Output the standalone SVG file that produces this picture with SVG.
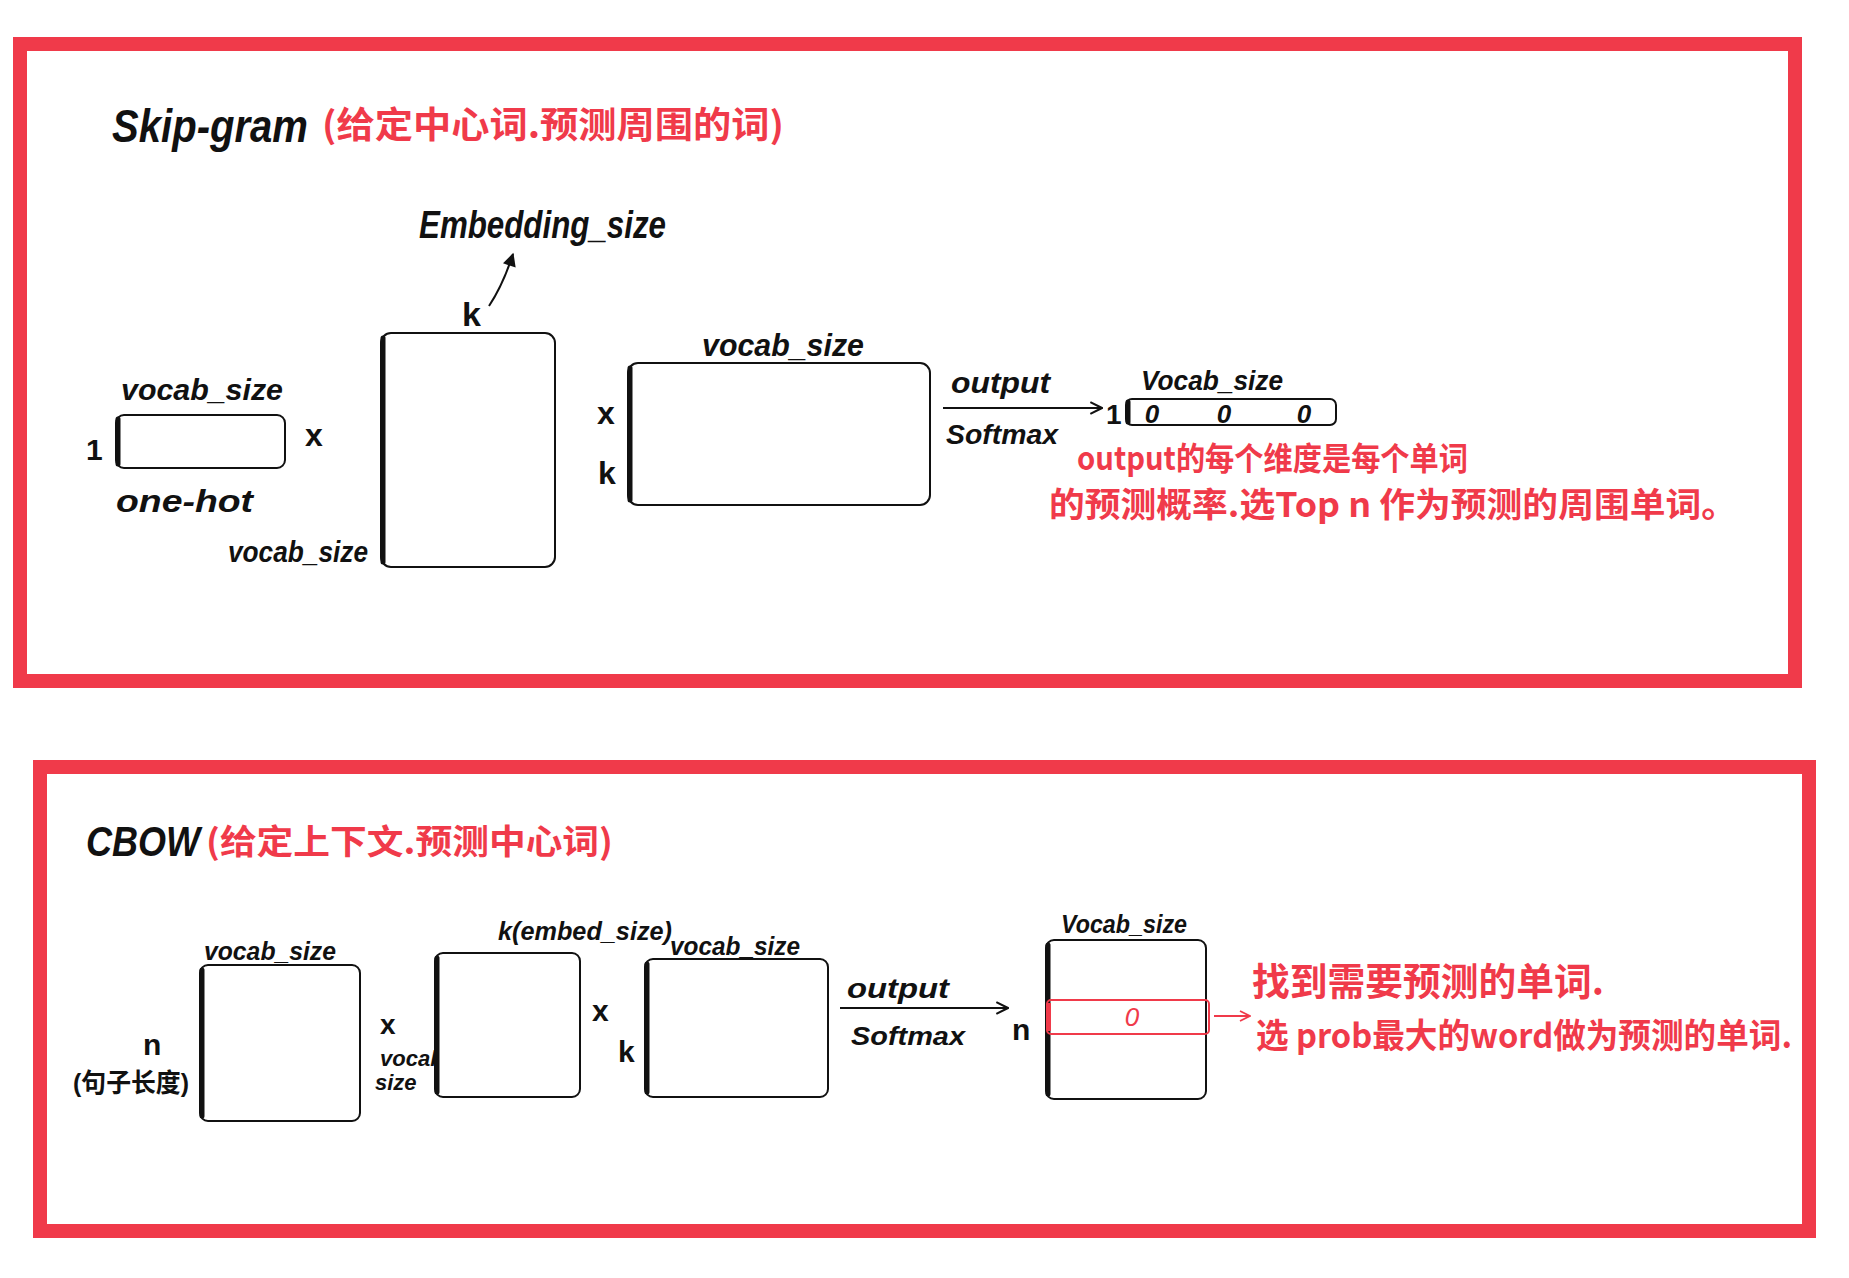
<svg xmlns="http://www.w3.org/2000/svg" width="1849" height="1278" viewBox="0 0 1849 1278">
<defs>
<style>
.frame{fill:none;stroke:#f03a4a;stroke-width:14}
.box{fill:#fff;stroke:#111;stroke-width:2}
.edge{stroke:#111;stroke-width:5;stroke-linecap:round}
.k{font-family:"Liberation Sans","Noto Sans CJK SC",sans-serif;fill:#111;font-weight:bold}
.r{font-family:"Noto Sans CJK SC","Liberation Sans",sans-serif;fill:#f03a4a;font-weight:bold}
.line{stroke:#111;stroke-width:2;fill:none}
.rline{stroke:#f03a4a;stroke-width:2;fill:none}
</style>
<marker id="ah" viewBox="0 0 12 12" refX="11" refY="6" markerWidth="14" markerHeight="14" markerUnits="userSpaceOnUse" orient="auto">
<path d="M1,1 L11,6 L1,11" fill="none" stroke="#111" stroke-width="1.8"/>
</marker>
<marker id="ahr" viewBox="0 0 12 12" refX="11" refY="6" markerWidth="12" markerHeight="12" markerUnits="userSpaceOnUse" orient="auto">
<path d="M1,1 L11,6 L1,11" fill="none" stroke="#f03a4a" stroke-width="1.8"/>
</marker>
<marker id="ahk" viewBox="0 0 12 12" refX="10" refY="6" markerWidth="16" markerHeight="16" markerUnits="userSpaceOnUse" orient="auto">
<path d="M1,1 L11,6 L1,11 Z" fill="#111"/>
</marker>
</defs>
<rect width="1849" height="1278" fill="#fff"/>

<!-- Frames -->
<g id="frame-skipgram"><rect class="frame" x="20" y="44" width="1775" height="637"/></g>
<g id="frame-cbow"><rect class="frame" x="40" y="767" width="1769" height="464"/></g>

<!-- Skip-gram section -->
<g id="title-skipgram">
<text class="k" x="112" y="142" font-size="46" font-style="italic" textLength="196" lengthAdjust="spacingAndGlyphs">Skip-gram</text>
<text class="r" x="322" y="138" font-size="36" textLength="462" lengthAdjust="spacingAndGlyphs">(给定中心词.预测周围的词)</text>
</g>
<g id="embedding-label">
<text class="k" x="419" y="238" font-size="38" font-style="italic" textLength="247" lengthAdjust="spacingAndGlyphs">Embedding_size</text>
</g>

<g id="onehot">
<rect class="box" x="116" y="415" width="169" height="53" rx="8"/>
<line class="edge" x1="118" y1="419" x2="118" y2="464"/>
<text class="k" x="121" y="400" font-size="30" font-style="italic" textLength="162" lengthAdjust="spacingAndGlyphs">vocab_size</text>
<text class="k" x="86" y="460" font-size="30">1</text>
<text class="k" x="116" y="512" font-size="32" font-style="italic" textLength="137" lengthAdjust="spacingAndGlyphs">one-hot</text>
</g>
<g id="times1"><text class="k" x="305" y="446" font-size="32">x</text></g>

<g id="embedding-matrix">
<rect class="box" x="381" y="333" width="174" height="234" rx="10"/>
<line class="edge" x1="383" y1="338" x2="383" y2="562"/>
<text class="k" x="462" y="326" font-size="34">k</text>
<text class="k" x="228" y="562" font-size="30" font-style="italic" textLength="140" lengthAdjust="spacingAndGlyphs">vocab_size</text>
</g>

<g id="output-matrix">
<rect class="box" x="628" y="363" width="302" height="142" rx="10"/>
<line class="edge" x1="630" y1="368" x2="630" y2="500"/>
<text class="k" x="702" y="356" font-size="32" font-style="italic" textLength="162" lengthAdjust="spacingAndGlyphs">vocab_size</text>
<text class="k" x="597" y="424" font-size="32">x</text>
<text class="k" x="598" y="484" font-size="32">k</text>
</g>

<g id="output-vector">
<rect class="box" x="1126" y="399" width="210" height="26" rx="6"/>
<line class="edge" x1="1128" y1="402" x2="1128" y2="422"/>
<text class="k" x="1106" y="424" font-size="28">1</text>
<text class="k" x="1141" y="390" font-size="28" font-style="italic" textLength="142" lengthAdjust="spacingAndGlyphs">Vocab_size</text>
<text class="k" x="1152" y="423" font-size="26" text-anchor="middle" font-style="italic">0</text>
<text class="k" x="1224" y="423" font-size="26" text-anchor="middle" font-style="italic">0</text>
<text class="k" x="1304" y="423" font-size="26" text-anchor="middle" font-style="italic">0</text>
</g>

<g id="note-skipgram">
<text class="r" x="1077" y="470" font-size="32" textLength="391" lengthAdjust="spacingAndGlyphs">output的每个维度是每个单词</text>
<text class="r" x="1049" y="517" font-size="34" textLength="688" lengthAdjust="spacingAndGlyphs">的预测概率.选Top n 作为预测的周围单词。</text>
</g>

<!-- CBOW section -->
<g id="title-cbow">
<text class="k" x="86" y="856" font-size="42" font-style="italic" textLength="114" lengthAdjust="spacingAndGlyphs">CBOW</text>
<text class="r" x="206" y="854" font-size="34" textLength="407" lengthAdjust="spacingAndGlyphs">(给定上下文.预测中心词)</text>
</g>

<g id="cbow-input">
<rect class="box" x="200" y="965" width="160" height="156" rx="8"/>
<line class="edge" x1="202" y1="970" x2="202" y2="1116"/>
<text class="k" x="204" y="960" font-size="26" font-style="italic" textLength="132" lengthAdjust="spacingAndGlyphs">vocab_size</text>
<text class="k" x="143" y="1055" font-size="30">n</text>
<text class="k" x="73" y="1092" font-size="26" textLength="116" lengthAdjust="spacingAndGlyphs">(句子长度)</text>
</g>
<g id="times2">
<text class="k" x="380" y="1034" font-size="28">x</text>
<text class="k" x="380" y="1066" font-size="22" font-style="italic">vocab</text>
<text class="k" x="375" y="1090" font-size="22" font-style="italic">size</text>
</g>

<g id="cbow-embedding">
<rect class="box" x="435" y="953" width="145" height="144" rx="8"/>
<line class="edge" x1="437" y1="958" x2="437" y2="1092"/>
<text class="k" x="498" y="940" font-size="26" font-style="italic" textLength="174" lengthAdjust="spacingAndGlyphs">k(embed_size)</text>
</g>
<g id="times3"><text class="k" x="592" y="1021" font-size="30">x</text></g>

<g id="cbow-output-matrix">
<rect class="box" x="645" y="959" width="183" height="138" rx="8"/>
<line class="edge" x1="647" y1="964" x2="647" y2="1092"/>
<text class="k" x="670" y="955" font-size="26" font-style="italic" textLength="130" lengthAdjust="spacingAndGlyphs">vocab_size</text>
<text class="k" x="618" y="1062" font-size="30">k</text>
</g>

<g id="cbow-result">
<rect class="box" x="1046" y="940" width="160" height="159" rx="8"/>
<line class="edge" x1="1048" y1="945" x2="1048" y2="1094"/>
<text class="k" x="1061" y="933" font-size="26" font-style="italic" textLength="126" lengthAdjust="spacingAndGlyphs">Vocab_size</text>
<text class="k" x="1012" y="1040" font-size="30">n</text>
<rect x="1047" y="1000" width="162" height="34" rx="4" fill="none" stroke="#f03a4a" stroke-width="2"/>
<line x1="1049" y1="1003" x2="1049" y2="1031" stroke="#f03a4a" stroke-width="4"/>
<text x="1132" y="1026" font-size="26" text-anchor="middle" font-style="italic" font-family="Liberation Sans, sans-serif" fill="#f03a4a">0</text>
</g>

<g id="note-cbow">
<text class="r" x="1252" y="995" font-size="38" textLength="352" lengthAdjust="spacingAndGlyphs">找到需要预测的单词.</text>
<text class="r" x="1256" y="1048" font-size="34" textLength="536" lengthAdjust="spacingAndGlyphs">选 prob最大的word做为预测的单词.</text>
</g>

<!-- Connectors -->
<g id="connectors">
<path class="line" d="M489,306 Q503,285 513,254" marker-end="url(#ahk)"/>
<line class="line" x1="943" y1="408" x2="1102" y2="408" marker-end="url(#ah)"/>
<text class="k" x="951" y="393" font-size="30" font-style="italic" textLength="99" lengthAdjust="spacingAndGlyphs">output</text>
<text class="k" x="946" y="444" font-size="28" font-style="italic" textLength="112" lengthAdjust="spacingAndGlyphs">Softmax</text>
<line class="line" x1="840" y1="1008" x2="1008" y2="1008" marker-end="url(#ah)"/>
<text class="k" x="847" y="998" font-size="28" font-style="italic" textLength="102" lengthAdjust="spacingAndGlyphs">output</text>
<text class="k" x="851" y="1045" font-size="26" font-style="italic" textLength="114" lengthAdjust="spacingAndGlyphs">Softmax</text>
<line class="rline" x1="1214" y1="1016" x2="1250" y2="1016" marker-end="url(#ahr)"/>
</g>
</svg>
